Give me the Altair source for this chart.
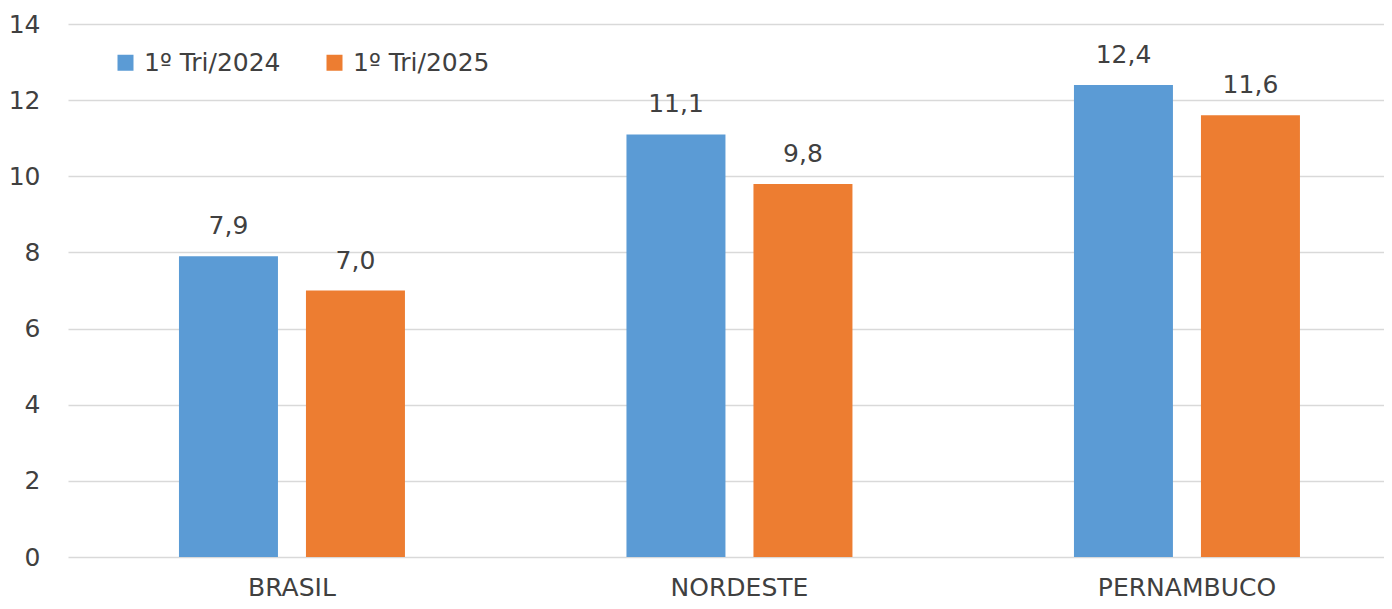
import altair as alt
import pandas as pd

regions = ["BRASIL", "NORDESTE", "PERNAMBUCO"]
series = ["1º Tri/2024", "1º Tri/2025"]
values_2024 = [7.9, 11.1, 12.4]
values_2025 = [7.0, 9.8, 11.6]
colors = ["#5B9BD5", "#ED7D31"]

rows = []
for r, a, b in zip(regions, values_2024, values_2025):
    rows.append({"regiao": r, "periodo": series[0], "valor": a, "rotulo": f"{a:.1f}".replace(".", ",")})
    rows.append({"regiao": r, "periodo": series[1], "valor": b, "rotulo": f"{b:.1f}".replace(".", ",")})
df = pd.DataFrame(rows)

FONT = "DejaVu Sans"
FS = 25
TXT = "#404040"

x = alt.X("regiao:N", sort=regions, title=None,
          scale=alt.Scale(paddingInner=0.495, paddingOuter=0.2179, align=0.569),
          axis=alt.Axis(labelAngle=0, labelFont=FONT, labelFontSize=FS, labelColor=TXT,
                        ticks=False, domain=False, labelPadding=38, labelBaseline="alphabetic",
                        grid=False))
xo = alt.XOffset("periodo:N", sort=series,
                 scale=alt.Scale(paddingInner=0.2205, paddingOuter=0))
y = alt.Y("valor:Q", title=None,
          scale=alt.Scale(domain=[0, 14], nice=False),
          axis=alt.Axis(values=[0, 2, 4, 6, 8, 10, 12, 14], labelFont=FONT, labelFontSize=FS,
                        labelColor=TXT, ticks=False, domain=False, labelPadding=28,
                        gridColor="#D9D9D9", gridWidth=1.5))

color = alt.Color("periodo:N", sort=series,
                  scale=alt.Scale(domain=series, range=colors),
                  legend=alt.Legend(title=None, orient="none", legendX=45, legendY=26,
                                    direction="horizontal", symbolType="square", symbolSize=256,
                                    symbolStrokeWidth=0, labelFont=FONT, labelFontSize=FS,
                                    labelColor=TXT, columnPadding=41, labelOffset=6))

bars = alt.Chart(df).mark_bar().encode(x=x, xOffset=xo, y=y, color=color)
labels = alt.Chart(df).mark_text(baseline="alphabetic", dy=-22, font=FONT, fontSize=FS, color=TXT).encode(
    x=x, xOffset=xo, y=y, text="rotulo:N")

chart = alt.layer(bars, labels).properties(
    width=1316, height=533,
    autosize=alt.AutoSizeParams(type="none"),
    padding={"left": 60, "top": 16, "right": 0, "bottom": 44},
).configure_view(stroke=None)

chart.save("out.html", embed_options={"renderer": "svg", "actions": False})
